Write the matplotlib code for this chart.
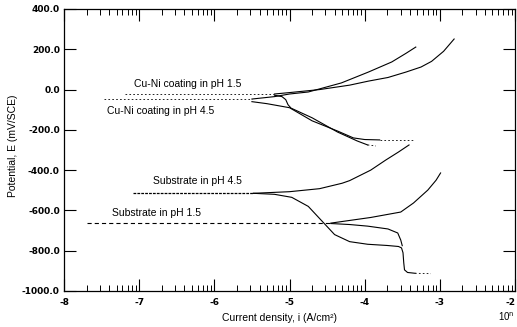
import matplotlib
matplotlib.use("Agg")
import matplotlib.pyplot as plt
import numpy as np

plt.rcParams['lines.scale_dashes'] = False

# ---------------- data (log10 i, E in mV/SCE) ----------------
# Substrate in pH 4.5
sub45_flat_logi = [-7.08, -5.48]
sub45_flat_E = [-515, -515]
sub45_an_logi = [-5.48, -5.0, -4.6, -4.3, -4.2, -3.92, -3.72, -3.55, -3.41]
sub45_an_E = [-515, -507, -492, -465, -452, -400, -350, -310, -275]
sub45_cat_logi = [-5.48, -5.2, -4.97, -4.75, -4.6, -4.5, -4.4, -4.2, -3.96, -3.7,
                  -3.55, -3.51, -3.49, -3.48, -3.47, -3.43, -3.33]
sub45_cat_E = [-515, -520, -535, -580, -640, -680, -720, -755, -768, -774,
               -779, -786, -810, -860, -895, -908, -912]
sub45_tail_logi = [-3.33, -3.12]
sub45_tail_E = [-912, -914]

# Substrate in pH 1.5
sub15_flat_logi = [-7.69, -4.45]
sub15_flat_E = [-663, -663]
sub15_an_logi = [-4.45, -4.3, -3.92, -3.52, -3.35, -3.16, -3.05, -2.99]
sub15_an_E = [-663, -655, -635, -608, -563, -499, -450, -414]
sub15_cat_logi = [-4.45, -4.2, -3.96, -3.69, -3.56, -3.52, -3.50]
sub15_cat_E = [-665, -670, -678, -692, -712, -747, -775]

# Cu-Ni coating in pH 1.5
co15_flat_logi = [-7.19, -5.2]
co15_flat_E = [-22, -22]
co15_an_logi = [-5.2, -5.0, -4.6, -4.2, -3.95, -3.69, -3.45, -3.25, -3.11, -2.95, -2.81]
co15_an_E = [-22, -15, 0, 22, 42, 60, 87, 112, 140, 190, 251]
co15_cat_logi = [-5.2, -5.1, -5.05, -5.02, -4.98, -4.7, -4.36, -4.1, -3.96]
co15_cat_E = [-28, -35, -50, -75, -92, -140, -211, -255, -275]
co15_tail_logi = [-3.96, -3.85]
co15_tail_E = [-275, -280]

# Cu-Ni coating in pH 4.5
co45_flat_logi = [-7.47, -5.5]
co45_flat_E = [-47, -47]
co45_an_logi = [-5.5, -5.2, -5.0, -4.75, -4.31, -3.95, -3.64, -3.45, -3.32]
co45_an_E = [-47, -35, -22, -12, 33, 87, 137, 180, 211]
co45_cat_logi = [-5.5, -5.3, -5.0, -4.7, -4.36, -4.15, -4.0, -3.8]
co45_cat_E = [-60, -70, -90, -155, -206, -240, -248, -250]
co45_tail_logi = [-3.8, -3.35]
co45_tail_E = [-250, -250]

ytick_vals = [-1000, -800, -600, -400, -200, 0, 200, 400]
ytick_labels = ["-1000.0", "-800.0", "-600.0", "-400.0", "-200.0", "0.0", "200.0", "400.0"]
xtick_vals = [-8, -7, -6, -5, -4, -3, -2]
xtick_labels = ["-8", "-7", "-6", "-5", "-4", "-3", "-2"]

labels = {
    "Cu-Ni coating in pH 1.5": (-6.36, 28),
    "Cu-Ni coating in pH 4.5": (-6.72, -106),
    "Substrate in pH 4.5": (-6.23, -456),
    "Substrate in pH 1.5": (-6.77, -613),
}

# ---------------- figure ----------------
fig = plt.figure(figsize=(5.17, 3.27), dpi=100)
ax = fig.add_axes([64/517, 36/327, 451/517, 282/327])

lw = 0.8
solid = dict(color='black', lw=lw)
dotted = dict(color='black', lw=0.6, linestyle=(0, (1.2, 1.6)))
dashed = dict(color='black', lw=0.8, linestyle=(0, (3.0, 2.2)))

# substrate pH 4.5
ax.plot(sub45_flat_logi, sub45_flat_E, color='black', lw=0.9, linestyle=(0, (2.0, 0.8)))
ax.plot(sub45_an_logi, sub45_an_E, **solid)
ax.plot(sub45_cat_logi, sub45_cat_E, **solid)
ax.plot(sub45_tail_logi, sub45_tail_E, **dotted)
# substrate pH 1.5
ax.plot(sub15_flat_logi, sub15_flat_E, **dashed)
ax.plot(sub15_an_logi, sub15_an_E, **solid)
ax.plot(sub15_cat_logi, sub15_cat_E, **solid)
# coating pH 1.5
ax.plot(co15_flat_logi, co15_flat_E, **dotted)
ax.plot(co15_an_logi, co15_an_E, **solid)
ax.plot(co15_cat_logi, co15_cat_E, **solid)
ax.plot(co15_tail_logi, co15_tail_E, **dotted)
# coating pH 4.5
ax.plot(co45_flat_logi, co45_flat_E, **dotted)
ax.plot(co45_an_logi, co45_an_E, **solid)
ax.plot(co45_cat_logi, co45_cat_E, **solid)
ax.plot(co45_tail_logi, co45_tail_E, **dotted)

for txt, (xx, yy) in labels.items():
    ax.text(xx, yy, txt, ha='center', va='center', fontsize=7.5,
            family='Liberation Sans', color='black')

ax.set_xlim(-8, -2)
ax.set_ylim(-1000, 400)

ax.set_yticks(ytick_vals)
ax.set_yticklabels(ytick_labels, fontsize=6.5, fontweight='bold', family='DejaVu Sans')
ax.set_xticks(xtick_vals)
ax.set_xticklabels(xtick_labels, fontsize=6.5, fontweight='bold', family='DejaVu Sans')
ax.get_xticklabels()[-1].set_horizontalalignment('right')

minor = [d + np.log10(k) for d in range(-8, -2) for k in range(2, 10)]
ax.set_xticks(minor, minor=True)

ax.tick_params(axis='both', which='major', direction='in', length=8.5, width=0.8,
               top=True, right=True, colors='black')
ax.tick_params(axis='x', which='major', pad=5)
ax.tick_params(axis='y', which='major', pad=3)
ax.tick_params(axis='x', which='minor', direction='in', length=4.5, width=0.7,
               top=True, bottom=True)
for s in ax.spines.values():
    s.set_linewidth(0.9)
    s.set_color('black')

fig.text(13/517, 1 - 146/327, "Potential, E (mV/SCE)", rotation=90, ha='center',
         va='center', fontsize=7.5, family='Liberation Sans')
fig.text(280/517, 1 - 318/327, "Current density, i (A/cm²)", ha='center',
         va='center', fontsize=7.5, family='Liberation Sans')
fig.text(506/517, 1 - 317/327, r"10$^{\mathrm{n}}$", ha='center', va='center',
         fontsize=7, family='Liberation Sans')

fig.savefig("out.png", dpi=100, facecolor='white')
